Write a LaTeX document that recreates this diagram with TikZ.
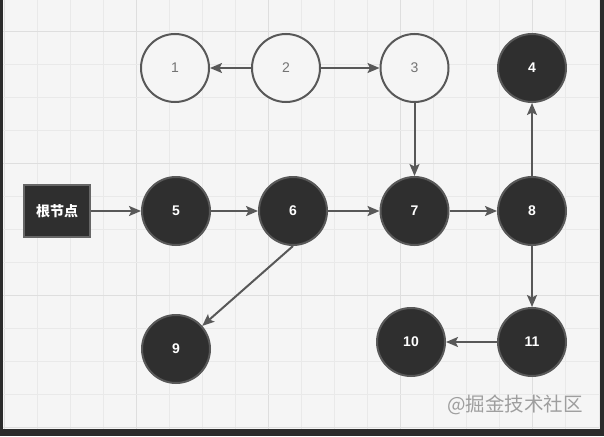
\documentclass[tikz,border=0pt]{standalone}
\usepackage{fontspec}
\setmainfont{Liberation Sans}
\newfontfamily\cjk{Noto Sans CJK SC}
\usepackage{tikz}
\usetikzlibrary{arrows.meta, positioning}
\definecolor{nodefill}{HTML}{2F2F2F}
\definecolor{linegray}{HTML}{585858}
\definecolor{bggray}{HTML}{F5F5F5}
\definecolor{gridminor}{HTML}{E9E9E9}
\definecolor{gridmajor}{HTML}{DEDEDE}
\definecolor{framegray}{HTML}{2B2B2B}

\begin{document}
\begin{tikzpicture}[x=1pt,y=-1pt,on grid,>={Stealth[length=12pt,width=10pt,inset=2.5pt]},
        darknode/.style={circle,draw=linegray,fill=nodefill,line width=2pt,minimum size=68pt,inner sep=0pt,
          text=white,font=\fontsize{14}{15}\selectfont\bfseries},
        lightnode/.style={circle,draw=linegray,fill=bggray,line width=2pt,minimum size=68pt,inner sep=0pt,
          text=black!55,font=\fontsize{14}{15}\selectfont},
        rootnode/.style={rectangle,draw=black!60,fill=nodefill,line width=1.5pt,minimum width=66pt,minimum height=52pt,
          text=white,font=\cjk\fontsize{14}{15}\selectfont\bfseries},
        link/.style={->,draw=linegray,line width=2pt}]

    % frame and grid
    \useasboundingbox (0,0) rectangle (604,436);
    \fill[framegray] (0,0) rectangle (604,436);
    \fill[bggray] (3,0) rectangle (599,429);
    \foreach \i in {0,...,18} {
      \pgfmathtruncatemacro{\m}{mod(\i,4)}
      \ifnum\m=0 \def\gc{gridmajor}\else\def\gc{gridminor}\fi
      \draw[\gc,line width=0.8pt] ({4+33.05*\i},0) -- ({4+33.05*\i},429);
    }
    \foreach \j in {0,...,12} {
      \pgfmathtruncatemacro{\m}{mod(\j,4)}
      \ifnum\m=0 \def\gc{gridmajor}\else\def\gc{gridminor}\fi
      \draw[\gc,line width=0.8pt] (3,{31.7+33*\j}) -- (599,{31.7+33*\j});
    }

    % top row
    \node[lightnode] (n_1) at (175,68) {1};
    \node[lightnode] (n_2) [right=111pt of n_1] {2};
    \node[lightnode] (n_3) [right=128.5pt of n_2] {3};
    \node[darknode]  (n_4) [right=117.5pt of n_3] {4};

    % middle row
    \node[darknode]  (n_5) at (176,211) {5};
    \node[rootnode]  (root) [left=119pt of n_5] {根节点};
    \node[darknode]  (n_6) [right=117pt of n_5] {6};
    \node[darknode]  (n_7) [right=121.5pt of n_6] {7};
    \node[darknode]  (n_8) [right=117.5pt of n_7] {8};

    % bottom row
    \node[darknode]  (n_9)  at (176,349) {9};
    \node[darknode]  (n_11) at (532,342) {11};
    \node[darknode]  (n_10) [left=121pt of n_11] {10};

    \node[text=black!38,font=\cjk\fontsize{19.5}{20}\selectfont] (mark) at (515,405) {@掘金技术社区};

    \draw[link] (n_2) -- (n_1);
    \draw[link] (n_2) -- (n_3);
    \draw[link] (n_3) -- (n_7);
    \draw[link] (root) -- (n_5);
    \draw[link] (n_5) -- (n_6);
    \draw[link] (n_6) -- (n_7);
    \draw[link] (n_7) -- (n_8);
    \draw[link] (n_8) -- (n_4);
    \draw[link] (n_8) -- (n_11);
    \draw[link] (n_11) -- (n_10);
    \draw[link] (n_6.south) -- (n_9);
\end{tikzpicture}
\end{document}
